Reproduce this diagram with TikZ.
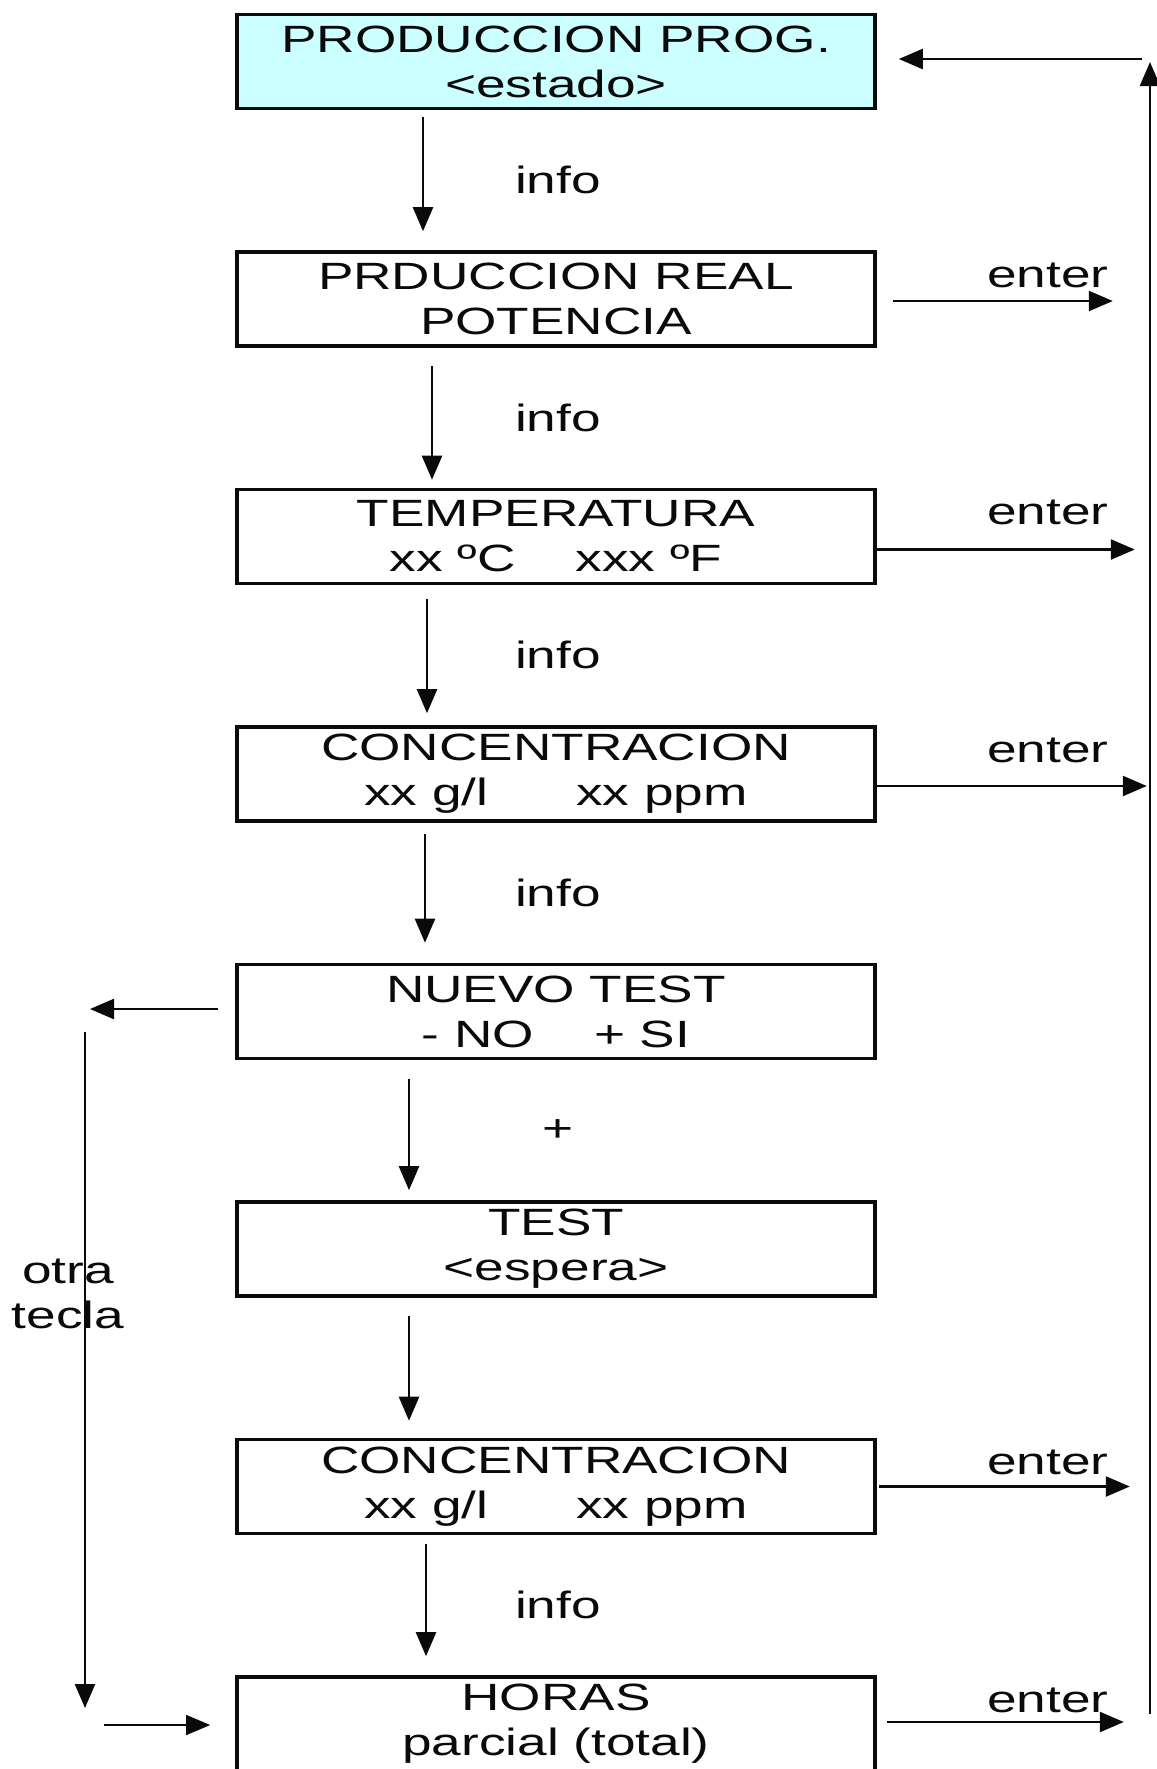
\documentclass[tikz,border=0pt]{standalone}
\usepackage{fontspec}
\setmainfont{Liberation Sans}[FakeStretch=1.4]
\usetikzlibrary{arrows.meta,positioning,calc}
\definecolor{progfill}{RGB}{204,255,255}
\definecolor{linclr}{RGB}{10,10,10}
\tikzset{
  dblk/.style={rectangle,draw=linclr,line width=1.8pt,fill=white,
    minimum width=319pt,minimum height=47pt,inner sep=0pt,
    font=\fontsize{19pt}{22.5pt}\selectfont,align=center,text=linclr},
  pblk/.style={dblk,fill=progfill},
  arr/.style={-{Triangle[length=12pt,width=10pt]},line width=1.2pt,color=linclr},
  tarr/.style={arr,line width=0.7pt},
  lbl/.style={font=\fontsize{19pt}{22.5pt}\selectfont,align=center,text=linclr,inner sep=0pt},
}
\begin{document}
\begin{tikzpicture}[node distance=69.95pt]
  \useasboundingbox (0,0) rectangle (578.5pt,-884.5pt);

  %% pantallas
  \node[pblk] (b1) at (278pt,-30.75pt) {PRODUCCION PROG.\\<estado>};
  \node[dblk,below=of b1] (b2) {PRDUCCION REAL\\POTENCIA};
  \node[dblk,below=of b2] (b3) {TEMPERATURA\\xx ºC\hspace{30pt}xxx ºF};
  \node[dblk,below=of b3] (b4) {CONCENTRACION\\xx g/l\hspace{44pt}xx ppm};
  \node[dblk,below=of b4] (b5) {NUEVO TEST\\- NO\hspace{30pt}+ SI};
  \node[dblk,below=of b5] (b6) {TEST\\<espera>};
  \node[dblk,below=of b6] (b7) {CONCENTRACION\\xx g/l\hspace{44pt}xx ppm};
  \node[dblk,below=of b7] (b8) {HORAS\\parcial (total)};

  %% flechas hacia abajo
  \foreach \i/\j/\dx/\s/\e in {1/2/-66.5/3.5/9.5,2/3/-62/9/4,3/4/-64.5/7/6,
                               4/5/-65.5/5.5/10,5/6/-73.5/9.5/5,6/7/-73.5/9/8.5,
                               7/8/-65/4.5/9.5}{
    \draw[arr,shorten <=\s pt,shorten >=\e pt]
      ([xshift=\dx pt]b\i.south) -- ([xshift=\dx pt]b\i.south |- b\j.north);
  }

  %% etiquetas
  \foreach \i/\j/\txt in {1/2/info,2/3/info,3/4/info,4/5/info,5/6/+,7/8/info}{
    \node[lbl] (t\i) at ($(b\i.south)!0.5!(b\j.north)+(1pt,0)$) {\txt};
  }

  %% enter
  \foreach \b/\s/\e/\dy in {2/8/118/-1,3/0/129/-6.5,4/0/135/-6,
                            7/1/126.5/0,8/5/123.5/1}{
    \coordinate (x\b) at ([xshift=\e pt,yshift=\dy pt]b\b.east);
    \draw[arr] ([xshift=\s pt,yshift=\dy pt]b\b.east) -- (x\b);
    \node[lbl] (n\b) at ([xshift=85.5pt,yshift=12pt]b\b.east) {enter};
  }

  %% retorno derecho
  \coordinate (rb) at (575pt,-857pt);
  \coordinate (rt) at (575pt,-31pt);
  \coordinate (rh) at (571pt,-29.5pt);
  \draw[arr] (rb) -- (rt);
  \draw[arr,shorten >=11pt] (rh) -- (rh -| b1.east);

  %% otra tecla
  \coordinate (lh) at (45pt,-504.5pt);
  \coordinate (lt) at (42.5pt,-516pt);
  \coordinate (lb) at (42.5pt,-854pt);
  \coordinate (ls) at (52pt,-862.5pt);
  \draw[arr,shorten <=8.5pt] (b5.west |- lh) -- (lh);
  \draw[arr] (lt) -- (lb);
  \draw[tarr,shorten >=12.5pt] (ls) -- (ls -| b8.west);
  \node[lbl] (ot) at (34pt,-647pt) {otra\\tecla};

\end{tikzpicture}
\end{document}
